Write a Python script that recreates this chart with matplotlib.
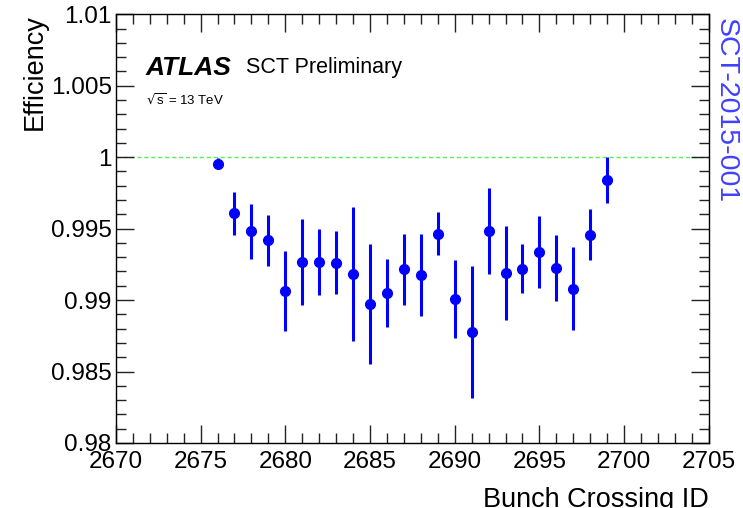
import numpy as np
import matplotlib
matplotlib.use("Agg")
from matplotlib import pyplot as plt
from matplotlib.ticker import MultipleLocator, FuncFormatter

plt.rcParams['font.family'] = ['Liberation Sans', 'DejaVu Sans']

# ─── data ──────────────────────────────────────────────────────────────────
bcid = [2676, 2677, 2678, 2679, 2680, 2681, 2682, 2683, 2684, 2685, 2686, 2687,
        2688, 2689, 2690, 2691, 2692, 2693, 2694, 2695, 2696, 2697, 2698, 2699]
efficiency = [0.99955, 0.99606, 0.99480, 0.99417, 0.99064, 0.99268, 0.99266, 0.99260,
              0.99182, 0.98973, 0.99049, 0.99215, 0.99175, 0.99463, 0.99007, 0.98776,
              0.99485, 0.99191, 0.99219, 0.99336, 0.99226, 0.99079, 0.99457, 0.99842]
eff_err = [0.0004, 0.0015, 0.0019, 0.0018, 0.0028, 0.0030, 0.0023, 0.0022,
           0.0047, 0.0042, 0.0024, 0.0025, 0.0029, 0.0015, 0.0027, 0.0046,
           0.0030, 0.0033, 0.0017, 0.0025, 0.0023, 0.0029, 0.0018, 0.0016]

fig = plt.figure(figsize=(7.43, 5.08), dpi=100)
ax = fig.add_axes([0.156, 0.128, 0.798, 0.844])

# reference line at 100 %
ax.axhline(1.0, color='#55ee55', linestyle=(0, (3, 2)), linewidth=1.0, zorder=1)

ax.errorbar(bcid, efficiency, yerr=eff_err, fmt='o', color='#0000ff',
            markersize=7, elinewidth=2.2, capsize=0, zorder=3)

ax.set_xlim(2670, 2705)
ax.set_ylim(0.98, 1.01)

# ROOT-like ticks: inside, mirrored on all four sides
ax.xaxis.set_major_locator(MultipleLocator(5))
ax.xaxis.set_minor_locator(MultipleLocator(1))
ax.yaxis.set_major_locator(MultipleLocator(0.005))
ax.yaxis.set_minor_locator(MultipleLocator(0.001))
ax.yaxis.set_major_formatter(FuncFormatter(lambda v, p: f"{v:g}"))
ax.tick_params(which='both', direction='in', top=True, right=True,
               labelsize=17.5, width=1.0, color='#222222')
ax.tick_params(which='major', length=13)
ax.tick_params(which='minor', length=7)
ax.tick_params(axis='x', which='major', pad=6)
ax.tick_params(axis='y', which='major', pad=3)
for s in ax.spines.values():
    s.set_linewidth(1.0)

ax.set_ylabel("Efficiency", fontsize=19.5, loc='top', labelpad=2)
ax.set_xlabel("Bunch Crossing ID", fontsize=19.5, loc='right', labelpad=10)

# labels
ax.text(0.05, 0.875, "ATLAS", transform=ax.transAxes, fontsize=19,
        fontweight='bold', fontstyle='italic', va='center')
ax.text(0.219, 0.875, "SCT Preliminary", transform=ax.transAxes, fontsize=15.5,
        va='center')
ax.text(0.05, 0.80, r"$\sqrt{\mathregular{s}}$ = 13 TeV", transform=ax.transAxes,
        fontsize=9.5, va='center')

fig.text(0.977, 0.965, "SCT-2015-001", rotation=-90, color='#4040ff',
         fontsize=20.5, ha='center', va='top')

fig.savefig("out.png", dpi=100)
